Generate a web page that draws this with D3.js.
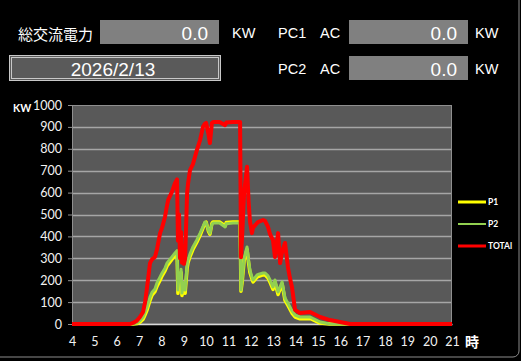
<!DOCTYPE html>
<html><head><meta charset="utf-8">
<script src="https://cdn.jsdelivr.net/npm/d3@7"></script>
<style>
html,body{margin:0;padding:0;background:#000;}
svg{display:block;}
</style></head>
<body>
<svg id="c" width="521" height="361"></svg>
<script>
// ---- data ----
const hours = [4,6.6,6.73,6.9,7.04,7.18,7.27,7.36,7.49,7.58,7.71,7.8,7.94,8.03,8.16,8.25,8.3,8.47,8.61,8.7,8.74,8.79,8.83,8.88,8.92,8.97,9.01,9.06,9.15,9.19,9.28,9.41,9.59,9.73,9.86,9.95,10.0,10.1,10.17,10.26,10.31,10.6,10.85,10.9,11.2,11.5,11.52,11.56,11.61,11.7,11.83,11.9,11.96,12.05,12.1,12.28,12.32,12.55,12.64,12.77,12.86,12.99,13.08,13.22,13.31,13.4,13.53,13.66,13.75,13.84,13.98,14.2,14.65,15.1,15.54,15.99,16.44,21];
const p1 = [0,0,0,2,8,22,42,65,108,132,148,172,200,220,243,265,272,295,312,325,140,215,185,235,130,178,175,140,255,280,308,340,375,405,438,462,465,425,410,460,466,466,448,463,466,466,466,150,190,290,340,280,235,205,192,214,216,224,224,210,190,158,190,135,160,182,108,85,68,50,32,24,25,4,0,0,0,0];
const p2 = [0,0,0,5,15,32,55,78,123,145,160,187,215,233,255,278,285,306,324,335,155,230,200,250,141,190,187,155,270,292,320,352,385,415,445,466,462,430,415,455,461,461,443,458,461,461,461,155,200,300,352,290,247,215,201,224,226,233,233,220,201,169,201,146,170,192,119,95,78,60,41,32,32,9,0,0,0,0];
const total = [0,0,5,15,32,55,100,169,278,295,306,340,415,440,489,540,566,603,644,660,380,500,300,420,280,350,275,300,598,640,703,730,795,840,900,915,918,870,826,918,922,922,908,920,922,922,922,305,400,600,718,560,470,415,440,461,465,475,470,443,410,383,306,415,278,330,370,260,210,169,64,50,55,32,18,9,0,0];
const seriesNames = ["P1","P2","TOTAl"];
const yTicks = [0,100,200,300,400,500,600,700,800,900,1000];
const xTicks = [4,5,6,7,8,9,10,11,12,13,14,15,16,17,18,19,20,21];
const headerLabels = ["総交流電力","PC1","PC2","AC"];
const headerValues = ["0.0","0.0","0.0"];
const unitLabel = "KW";
const dateText = "2026/2/13";

const svg = d3.select("#c");
const FONT = "Lato, 'Open Sans', 'Liberation Sans', sans-serif";
const JFONT = "'Noto Sans CJK JP', 'Liberation Sans', sans-serif";

// outer chart border
svg.append("rect").attr("x",-10).attr("y",-10).attr("width",529).attr("height",367)
  .attr("rx",6).attr("fill","#000").attr("stroke","#8c8c8c").attr("stroke-width",1);

// ---- header panel ----
function label(x,y,t,size,anchor,fam){
  svg.append("text").attr("x",x).attr("y",y).attr("fill","#fff")
    .attr("font-family",fam||"'Liberation Sans', sans-serif").attr("font-size",size)
    .attr("text-anchor",anchor||"start").attr("dominant-baseline","central").text(t);
}
label(18,33,headerLabels[0],15,"start",JFONT);
svg.append("rect").attr("x",100).attr("y",20).attr("width",119).attr("height",24).attr("fill","#808080");
label(208,33.5,headerValues[0],19,"end");
label(232,32.5,unitLabel,14.5);

label(278,32.5,headerLabels[1],14.5); label(320,32.5,headerLabels[3],14.5);
svg.append("rect").attr("x",349).attr("y",20).attr("width",119).attr("height",24).attr("fill","#808080");
label(457,33.5,headerValues[1],19,"end");
label(475,32.5,unitLabel,14.5);

label(278,68.5,headerLabels[2],14.5); label(320,68.5,headerLabels[3],14.5);
svg.append("rect").attr("x",349).attr("y",56).attr("width",119).attr("height",24).attr("fill","#808080");
label(457,69.5,headerValues[2],19,"end");
label(475,68.5,unitLabel,14.5);

svg.append("rect").attr("x",9.5).attr("y",55.5).attr("width",211).attr("height",25)
  .attr("fill","#5a5a5a").attr("stroke","#c8c8c8");
svg.append("rect").attr("x",11.5).attr("y",57.5).attr("width",207).attr("height",21)
  .attr("fill","none").attr("stroke","#c8c8c8");
label(113,69.5,dateText,19,"middle");

// ---- chart ----
const x = d3.scaleLinear().domain([4,21]).range([72,452]);
const y = d3.scaleLinear().domain([0,1000]).range([324,105]);

svg.append("rect").attr("x",72).attr("y",105).attr("width",380).attr("height",219).attr("fill","#595959");

// grid
svg.append("g").selectAll("line").data(yTicks.slice(1,-1)).join("line")
  .attr("x1",72).attr("x2",452).attr("y1",d=>Math.round(y(d))+0.5).attr("y2",d=>Math.round(y(d))+0.5)
  .attr("stroke","#a6a6a6").attr("stroke-width",1.5);

// frame
svg.append("rect").attr("x",72.5).attr("y",105.5).attr("width",379).attr("height",218.5)
  .attr("fill","none").attr("stroke","#8f8f8f").attr("stroke-width",1);

// y axis
const ya = svg.append("g").attr("transform","translate(72,0)")
  .call(d3.axisLeft(y).tickValues(yTicks).tickFormat(d3.format("d")).tickSize(4).tickPadding(6));
ya.select(".domain").remove();
ya.selectAll("line").attr("stroke","#8f8f8f");
ya.selectAll("text").attr("fill","#f2f2f2").attr("font-family",FONT).attr("font-size",12.5);

// x axis
const xa = svg.append("g").attr("transform","translate(0,324)")
  .call(d3.axisBottom(x).tickValues(xTicks).tickSize(0).tickPadding(13));
xa.select(".domain").attr("stroke","#d9d9d9").attr("stroke-width",1.5);
xa.selectAll("text").attr("fill","#f2f2f2").attr("font-family",FONT).attr("font-size",12.5);

svg.append("text").attr("x",13).attr("y",112).attr("fill","#fff").attr("font-family",FONT)
  .attr("font-weight","bold").attr("font-size",10.5).text("KW");
svg.append("text").attr("x",465).attr("y",347).attr("fill","#fff").attr("font-family",JFONT)
  .attr("font-weight","bold").attr("font-size",14).text("時");

// lines
svg.append("clipPath").attr("id","pc").append("rect")
  .attr("x",72).attr("y",100).attr("width",382).attr("height",226);
const line = d3.line().x((d,i)=>x(hours[i])).y(d=>y(d));
const specs = [
  {v:p1, c:"#ffff00", w:3.5},
  {v:p2, c:"#92d050", w:3},
  {v:total, c:"#ff0000", w:4}
];
const gl = svg.append("g").attr("clip-path","url(#pc)");
specs.forEach(s=>{
  gl.append("path").datum(s.v).attr("d",line).attr("fill","none")
    .attr("stroke",s.c).attr("stroke-width",s.w).attr("stroke-linejoin","round");
});

// legend
const lg = svg.append("g");
seriesNames.forEach((n,i)=>{
  const yy = 202 + i*22;
  lg.append("line").attr("x1",458).attr("x2",486).attr("y1",yy).attr("y2",yy)
    .attr("stroke",specs[i].c).attr("stroke-width",i===1?2:3);
  lg.append("text").attr("x",488).attr("y",yy).attr("dominant-baseline","central")
    .attr("fill","#fff").attr("font-family",FONT).attr("font-size",8.5).attr("font-weight","bold").text(n);
});
</script>
</body></html>
